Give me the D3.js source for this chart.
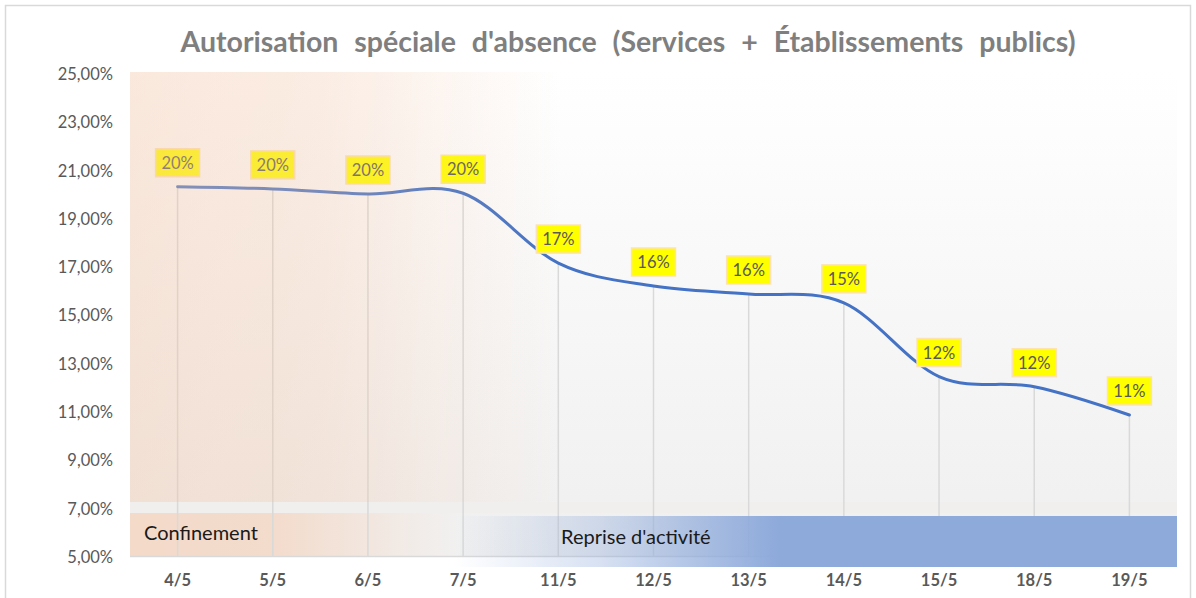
<!DOCTYPE html>
<html><head><meta charset="utf-8">
<script src="https://cdn.jsdelivr.net/npm/d3@7"></script>
<style>body{margin:0;background:#fff}svg{display:block;font-family:Lato,"Open Sans",sans-serif}</style>
</head><body><svg id="c" width="1196" height="598"></svg>
<script>
const title = "Autorisation spéciale d'absence (Services + Établissements publics)";
const categories = ["4/5","5/5","6/5","7/5","11/5","12/5","13/5","14/5","15/5","18/5","19/5"];
const values = [0.2029,0.2020,0.1999,0.2002,0.1713,0.1618,0.1585,0.1548,0.1243,0.1201,0.1084];
const yTicks = [0.05,0.07,0.09,0.11,0.13,0.15,0.17,0.19,0.21,0.23,0.25];
const phases = ["Confinement","Reprise d'activité"];

const svg = d3.select("#c");
const L=130,R=1177,T=73,B=556;
const x = d3.scaleBand().domain(categories).range([L,R]);
const cx = d => x(d)+x.bandwidth()/2;
const y = d3.scaleLinear().domain([0.05,0.25]).range([B,T]);
const defs = svg.append("defs");

// outer border
svg.append("rect").attr("x",5.5).attr("y",5.5).attr("width",1185).attr("height",600).attr("fill","#fff").attr("stroke","#d9d9d9").attr("stroke-width",1.5);

// title
const tt = svg.append("text").attr("x",628).attr("y",52).attr("text-anchor","middle")
  .attr("font-size",28.5).attr("font-weight","bold").attr("fill","#7f7f7f").text(title);
const nat = tt.node().getComputedTextLength();
const spaces = title.split(" ").length-1;
tt.attr("word-spacing", Math.max(0,(895-nat)/spaces).toFixed(2));

// plot background
const g1 = defs.append("linearGradient").attr("id","bgv").attr("x1",0).attr("y1",0).attr("x2",0).attr("y2",1);
g1.append("stop").attr("offset","0%").attr("stop-color","#ffffff");
g1.append("stop").attr("offset","100%").attr("stop-color","#efefef");
svg.append("rect").attr("x",L).attr("y",y(0.25)-1).attr("width",R-L).attr("height",B-y(0.25)+1).attr("fill","url(#bgv)");

// strip + confinement band
const g2 = defs.append("linearGradient").attr("id","conf").attr("x1",0).attr("x2",1).attr("y1",0).attr("y2",0);
g2.append("stop").attr("offset","0%").attr("stop-color","#f3dac9");
g2.append("stop").attr("offset","45%").attr("stop-color","#f3dccd");
g2.append("stop").attr("offset","100%").attr("stop-color","#f1f1f1");
svg.append("rect").attr("x",L).attr("y",502).attr("width",R-L).attr("height",11).attr("fill","#f0efee");
svg.append("rect").attr("x",L).attr("y",513).attr("width",330).attr("height",B-513).attr("fill","url(#conf)");

// drop lines
svg.append("g").selectAll("line").data(categories).join("line")
  .attr("x1",d=>cx(d)).attr("x2",d=>cx(d))
  .attr("y1",(d,i)=>y(values[i])).attr("y2",B)
  .attr("stroke","#d9d9d9").attr("stroke-width",1.5);

// x axis line
svg.append("line").attr("x1",L).attr("x2",R).attr("y1",B+0.5).attr("y2",B+0.5).attr("stroke","#d9d9d9").attr("stroke-width",1.5);

// series line
const line = d3.line().x((d,i)=>cx(categories[i])).y(d=>y(d)).curve(d3.curveCardinal.tension(0));
svg.append("path").datum(values).attr("d",line).attr("fill","none")
  .attr("stroke","#4472c4").attr("stroke-width",3).attr("stroke-linecap","round");

// data labels
const fmt = d3.format(".0%");
const lab = svg.append("g").selectAll("g").data(values).join("g")
  .attr("transform",(d,i)=>`translate(${cx(categories[i])},${y(d)-24})`);
lab.append("rect").attr("x",-22).attr("y",-14).attr("width",44).attr("height",28)
  .attr("fill","#ffff00").attr("stroke","#fde3b0").attr("stroke-width",1.5);
lab.append("text").attr("text-anchor","middle").attr("dy","0.36em").attr("font-size",16.5)
  .attr("fill","#595959").text(d=>fmt(d));

// peach overlay on left of plot
const g3 = defs.append("linearGradient").attr("id","peach").attr("gradientUnits","userSpaceOnUse")
  .attr("x1",L).attr("x2",560).attr("y1",0).attr("y2",0);
g3.append("stop").attr("offset","0%").attr("stop-color","#f2c3a4").attr("stop-opacity",0.38);
g3.append("stop").attr("offset","45%").attr("stop-color","#f2c3a4").attr("stop-opacity",0.3);
g3.append("stop").attr("offset","100%").attr("stop-color","#f2c3a4").attr("stop-opacity",0);
svg.append("rect").attr("x",L).attr("y",y(0.25)-1).attr("width",430).attr("height",502-y(0.25)+1).attr("fill","url(#peach)");

// reprise band
const g4 = defs.append("linearGradient").attr("id","rep").attr("gradientUnits","userSpaceOnUse")
  .attr("x1",455).attr("x2",778).attr("y1",0).attr("y2",0);
g4.append("stop").attr("offset","0%").attr("stop-color","#8eaadb").attr("stop-opacity",0);
g4.append("stop").attr("offset","45%").attr("stop-color","#8eaadb").attr("stop-opacity",0.35);
g4.append("stop").attr("offset","100%").attr("stop-color","#8eaadb").attr("stop-opacity",1);
svg.append("rect").attr("x",455).attr("y",516).attr("width",R-455).attr("height",51).attr("fill","url(#rep)");

// phase labels
svg.append("text").attr("x",144).attr("y",540).attr("font-size",20).attr("fill","#1a1a1a").text(phases[0]);
svg.append("text").attr("x",561).attr("y",544).attr("font-size",20).attr("fill","#1a1a1a").text(phases[1]);

// y axis labels
const fp = v => d3.format(".2f")(v*100).replace(".",",")+"%";
svg.append("g").selectAll("text").data(yTicks).join("text")
  .attr("x",113).attr("y",d=>y(d)+1).attr("dy","0.36em").attr("text-anchor","end")
  .attr("font-size",16.5).attr("fill","#595959").text(fp);

// x axis labels
svg.append("g").selectAll("text").data(categories).join("text")
  .attr("x",d=>cx(d)).attr("y",580).attr("dy","0.36em").attr("text-anchor","middle")
  .attr("font-size",16.5).attr("font-weight","bold").attr("fill","#595959").text(d=>d);
</script></body></html>
